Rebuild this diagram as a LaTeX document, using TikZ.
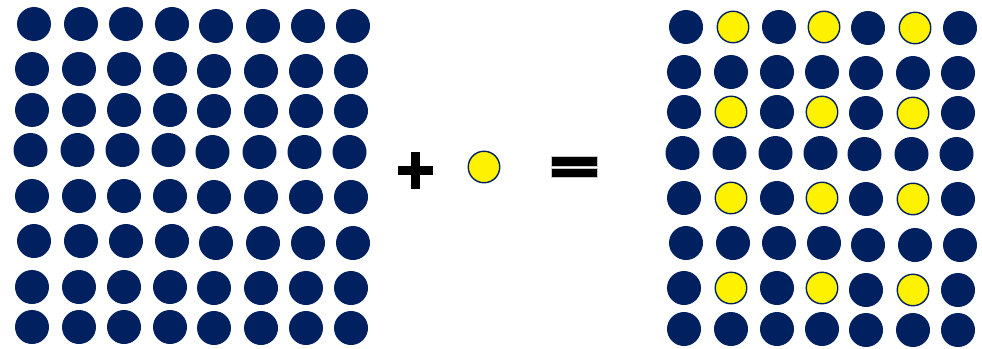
\documentclass[tikz,border=0pt]{standalone}
\definecolor{navy}{HTML}{002060}
\tikzset{
  dot/.style={circle, fill=navy, minimum size=34pt, inner sep=0pt},
  ydot/.style={circle, fill=yellow, draw=navy, line width=1.4pt, minimum size=31.5pt, inner sep=0pt},
  bar/.style={fill=black, draw=gray!45, line width=0.6pt}
}
\begin{document}
\begin{tikzpicture}[x=1pt,y=-1pt]
\useasboundingbox[fill=white] (0,0) rectangle (982,348);
% left 8x8 grid
\foreach \r/\y/\yy/\dx in {1/24/26/2, 2/69/71/0, 3/110/111/0, 4/150/152/-1.5, 5/196/197/0, 6/241/243/2, 7/287/288/0, 8/327/328/0} {
  \foreach \c/\x in {1/32,2/79,3/124,4/170,5/214,6/261,7/306,8/351} {
    \pgfmathsetmacro\yc{\c<5 ? \y : \yy}
    \node[dot] (L-\r-\c) at (\x+\dx,\yc) {};
  }
}
% plus
\fill[black] (398,166) rectangle (433,175);
\fill[black] (411,152) rectangle (420,189);
% single yellow
\node[ydot] (single) at (484,167) {};
% equals
\draw[bar] (551,156) rectangle (597,166);
\draw[bar] (551,168) rectangle (597,177);
% right 7x8 grid
\foreach \r/\y/\yy/\dx in {1/27/28/2, 2/72/73/0, 3/112/113/0, 4/153/154/-1.5, 5/198/199/0, 6/243/245/2, 7/288/290/0, 8/329/330/0} {
  \foreach \c/\x in {1/684,2/731,3/777,4/822,5/866,6/913,7/958} {
    \pgfmathsetmacro\yc{\c<5 ? \y : \yy}
    \pgfmathtruncatemacro\isy{(mod(\r,2)==1 && mod(\c,2)==0) ? 1 : 0}
    \ifnum\isy=1
      \node[ydot] (R-\r-\c) at (\x+\dx,\yc) {};
    \else
      \node[dot] (R-\r-\c) at (\x+\dx,\yc) {};
    \fi
  }
}
\end{tikzpicture}
\end{document}
